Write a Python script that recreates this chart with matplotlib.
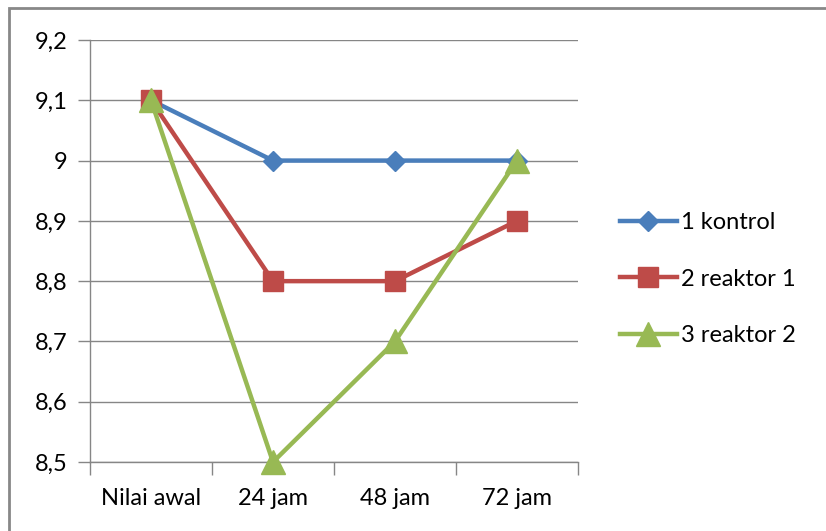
import matplotlib
matplotlib.use("Agg")
import matplotlib.pyplot as plt
from matplotlib.patches import Rectangle

# pH readings per sampling time
categories = ["Nilai awal", "24 jam", "48 jam", "72 jam"]
kontrol = [9.1, 9.0, 9.0, 9.0]
reaktor_1 = [9.1, 8.8, 8.8, 8.9]
reaktor_2 = [9.1, 8.5, 8.7, 9.0]
y_ticks = [8.5, 8.6, 8.7, 8.8, 8.9, 9.0, 9.1, 9.2]

plt.rcParams['font.family'] = ['Lato', 'DejaVu Sans']

W, H = 826, 531
FS = 17
fig = plt.figure(figsize=(W / 100, H / 100), dpi=100)
ax = fig.add_axes([90 / W, 1 - 462 / H, (578 - 90) / W, (462 - 40) / H])

x = list(range(len(categories)))
ax.plot(x, kontrol, color="#4A7EBB", lw=3.2, marker="D", ms=10, label="1 kontrol", zorder=3, clip_on=False)
ax.plot(x, reaktor_1, color="#BE4B48", lw=3.2, marker="s", ms=15, label="2 reaktor 1", zorder=4, clip_on=False)
ax.plot(x, reaktor_2, color="#98B954", lw=3.2, marker="^", ms=17, label="3 reaktor 2", zorder=5, clip_on=False)

ax.set_xlim(-0.5, len(categories) - 0.5)
ax.set_ylim(8.5, 9.2)
ax.set_yticks(y_ticks)
ax.set_yticklabels([("%g" % v).replace(".", ",") for v in y_ticks])
ax.yaxis.grid(True, color="#868686", lw=1)
ax.set_axisbelow(True)

# category labels centred between boundary tick marks
ax.set_xticks(x)
ax.set_xticklabels(categories)
ax.tick_params(axis="x", length=0, pad=19, labelsize=FS)
ax.set_xticks([i - 0.5 for i in range(len(categories) + 1)], minor=True)
ax.tick_params(axis="x", which="minor", length=9, width=1, color="#868686", direction="out")
ax.tick_params(axis="y", length=9, width=1, color="#868686", direction="out", pad=7, labelsize=FS)

for side in ["top", "right"]:
    ax.spines[side].set_visible(False)
for side in ["left", "bottom"]:
    ax.spines[side].set_color("#868686")
    ax.spines[side].set_linewidth(1)

ax.legend(loc="center left", bbox_to_anchor=(620 / W, 1 - 279 / H), bbox_transform=fig.transFigure,
          frameon=False, fontsize=FS, handlelength=2.4, handletextpad=0.2, labelspacing=1.5,
          borderaxespad=0, borderpad=0)

# outer chart frame
fig.patches.append(Rectangle((9 / W, -0.1), 1.2, 1 - 8 / H + 0.1, transform=fig.transFigure,
                             fill=False, edgecolor="#888888", lw=2))

fig.savefig("out.png", dpi=100)
